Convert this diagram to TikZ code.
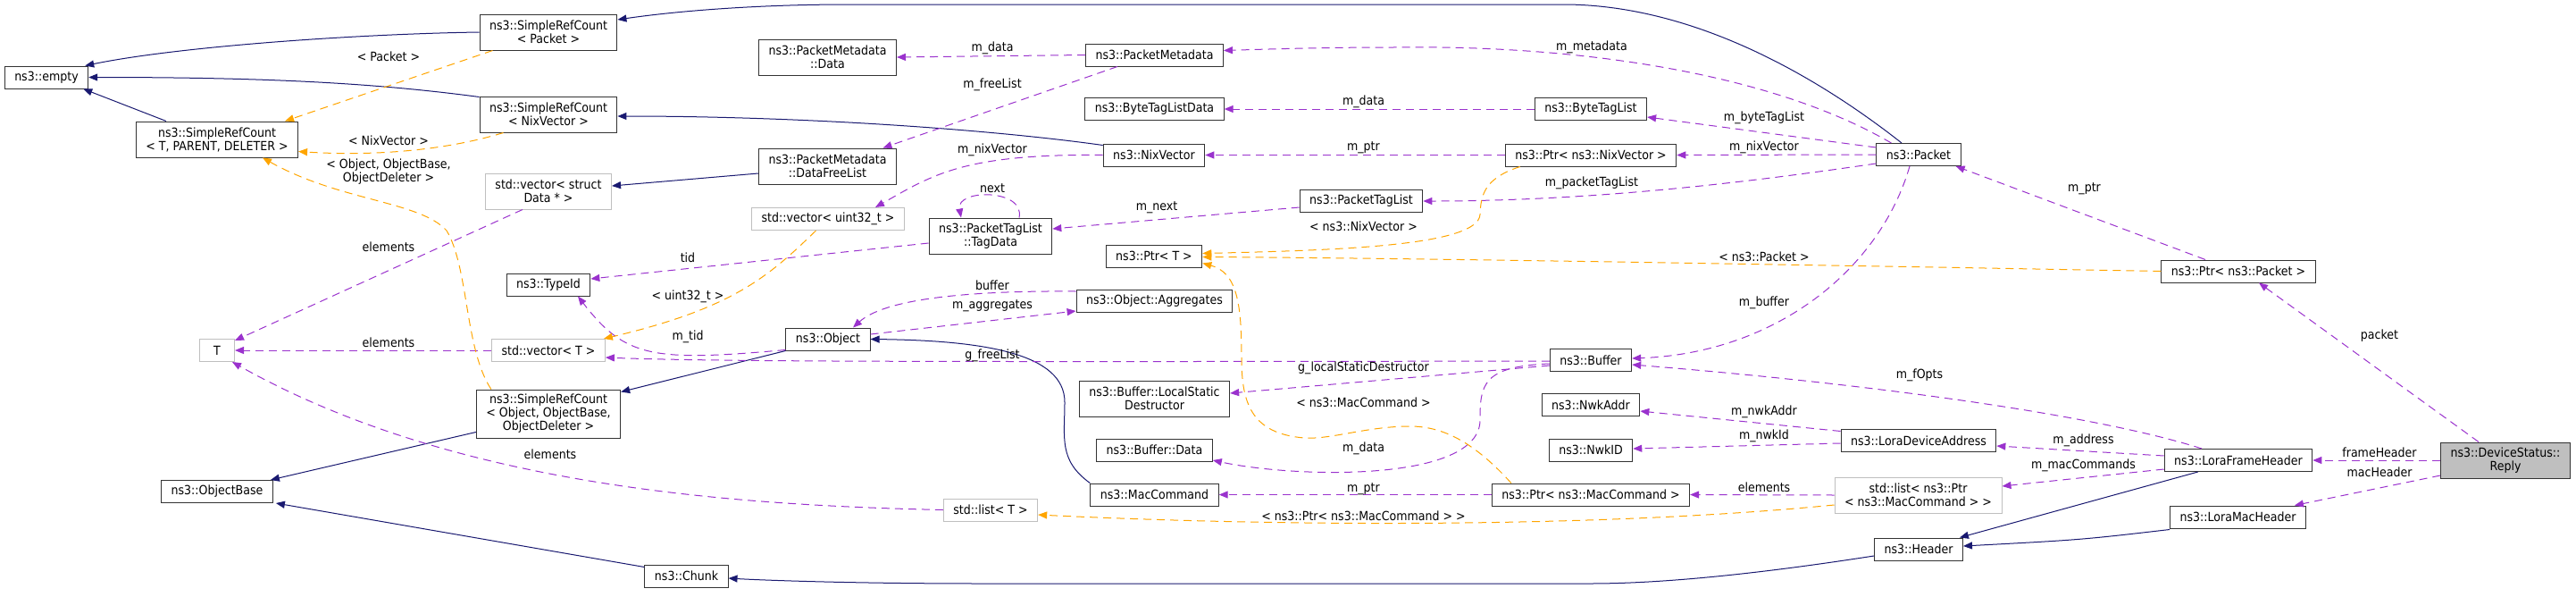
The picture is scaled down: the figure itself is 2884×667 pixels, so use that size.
\documentclass[tikz,border=0pt]{standalone}
\usepackage{fontspec}
\setmainfont{DejaVu Sans}[FakeStretch=0.9]
\usetikzlibrary{arrows.meta}
\definecolor{edgeBlue}{RGB}{25,25,112}
\definecolor{edgePurple}{RGB}{154,50,205}
\definecolor{edgeOrange}{RGB}{255,165,0}
\definecolor{boxGray}{RGB}{191,191,191}

\begin{document}
\begin{tikzpicture}[
	x=1pt, y=-1pt,
	cls/.style={rectangle, draw=black!80, fill=white, line width=1pt, inner xsep=11pt, inner ysep=2pt, minimum height=25pt, align=center, font=\fontsize{14}{15}\selectfont},
	ext/.style={cls, draw=boxGray},
	focus/.style={cls, fill=boxGray},
	lbl/.style={inner sep=0pt, align=center, font=\fontsize{14}{15}\selectfont},
	inherit/.style={color=edgeBlue, line width=1pt, -{Triangle[length=10pt,width=8pt]}},
	usage/.style={color=edgePurple, line width=1pt, dash pattern=on 9pt off 6pt, -{Triangle[length=10pt,width=8pt]}},
	templ/.style={color=edgeOrange, line width=1pt, dash pattern=on 9pt off 6pt, -{Triangle[length=10pt,width=8pt]}}
	]
	\useasboundingbox (0,0) rectangle (2884,667);
	%Nodes
	\node[cls](empty) at (52,86.5) {ns3::empty};
	\node[cls, minimum height=40pt](srcPacket) at (614,36) {ns3::SimpleRefCount\\< Packet >};
	\node[cls, minimum height=40pt](srcNix) at (614,128) {ns3::SimpleRefCount\\< NixVector >};
	\node[cls, minimum height=40pt](srcTPD) at (243,156) {ns3::SimpleRefCount\\< T, PARENT, DELETER >};
	\node[ext, minimum height=40pt](vecData) at (614,214) {std::vector< struct\\Data * >};
	\node[cls](typeId) at (614,318.5) {ns3::TypeId};
	\node[ext, minimum width=39pt](tT) at (243,392) {T};
	\node[ext](vecT) at (614,392) {std::vector< T >};
	\node[cls, minimum height=54pt](srcObj) at (614,463) {ns3::SimpleRefCount\\< Object, ObjectBase,\\ObjectDeleter >};
	\node[cls](objBase) at (243,550) {ns3::ObjectBase};
	\node[cls, minimum height=40pt](pmData) at (926.5,64) {ns3::PacketMetadata\\::Data};
	\node[cls](pMeta) at (1292.5,61.5) {ns3::PacketMetadata};
	\node[cls](btlData) at (1292.5,122) {ns3::ByteTagListData};
	\node[cls](nixVec) at (1292,173.5) {ns3::NixVector};
	\node[cls, minimum height=40pt](pmFree) at (926.5,186) {ns3::PacketMetadata\\::DataFreeList};
	\node[ext](vecU32) at (927,245) {std::vector< uint32\_t >};
	\node[cls, minimum height=40pt](tagData) at (1109,264) {ns3::PacketTagList\\::TagData};
	\node[cls](ptrT) at (1292,286.5) {ns3::Ptr< T >};
	\node[cls](aggr) at (1292.5,337) {ns3::Object::Aggregates};
	\node[cls](object) at (927,379.5) {ns3::Object};
	\node[cls, minimum height=40pt](lsd) at (1292.5,446) {ns3::Buffer::LocalStatic\\Destructor};
	\node[cls](bufData) at (1292.5,503.5) {ns3::Buffer::Data};
	\node[cls](macCmd) at (1292.5,553.5) {ns3::MacCommand};
	\node[ext](listT) at (1109,570.5) {std::list< T >};
	\node[cls](chunk) at (768.5,644.5) {ns3::Chunk};
	\node[cls](btl) at (1781,122) {ns3::ByteTagList};
	\node[cls](ptrNix) at (1781,173.5) {ns3::Ptr< ns3::NixVector >};
	\node[cls](ptl) at (1524,225) {ns3::PacketTagList};
	\node[cls](packet) at (2148,173) {ns3::Packet};
	\node[cls](buffer) at (1781,403) {ns3::Buffer};
	\node[cls](nwkAddr) at (1781,453) {ns3::NwkAddr};
	\node[cls](nwkId) at (1781,503.5) {ns3::NwkID};
	\node[cls](ptrMac) at (1781,553.5) {ns3::Ptr< ns3::MacCommand >};
	\node[cls](lda) at (2148,493) {ns3::LoraDeviceAddress};
	\node[ext, minimum height=40pt](listMac) at (2147.5,554) {std::list< ns3::Ptr\\< ns3::MacCommand > >};
	\node[cls](header) at (2148,614.5) {ns3::Header};
	\node[cls](ptrPkt) at (2506,303.5) {ns3::Ptr< ns3::Packet >};
	\node[cls](lfh) at (2506,515) {ns3::LoraFrameHeader};
	\node[cls](lmh) at (2505.5,578.5) {ns3::LoraMacHeader};
	\node[focus, minimum height=40pt](reply) at (2805,515) {ns3::DeviceStatus::\\Reply};
	%Lines
	% base classes
	\draw[inherit] (srcPacket.west) .. controls (400,38) and (200,52) .. ([xshift=-4pt]empty.north east);
	\draw[inherit] ([yshift=-1pt]srcNix.north west) .. controls (420,93) and (300,86.5) .. (empty.east);
	\draw[inherit] ([xshift=-57pt]srcTPD.north) -- ([xshift=-6pt]empty.south east);
	\draw[inherit] ([yshift=7pt]srcObj.south west) -- ([xshift=-3pt]objBase.north east);
	\draw[inherit] ([yshift=-3pt]chunk.north west) -- ([xshift=3pt]objBase.south east);
	\draw[inherit] (object.south west) -- ([yshift=-3pt]srcObj.north east);
	\draw[inherit] ([yshift=-8pt]pmFree.west) -- ([yshift=6pt]vecData.east);
	\draw[inherit] ([yshift=-2pt]nixVec.north west) .. controls (1110,145) and (900,130) .. ([yshift=-2pt]srcNix.east);
	\draw[inherit] ([xshift=-19pt]packet.north) .. controls (2040,90) and (1900,5) .. (1750,5) -- (950,5) .. controls (850,5) and (760,12) .. ([yshift=14pt]srcPacket.east);
	\draw[inherit] (macCmd.north west) .. controls (1185,515) and (1192,490) .. (1192,450) .. controls (1192,395) and (1100,381) .. (object.east);
	\draw[inherit] ([yshift=-7.5pt]header.west) .. controls (1950,645) and (1850,653) .. (1780,653) -- (1100,653) .. controls (950,653) and (850,649) .. ([yshift=-2.5pt]chunk.east);
	\draw[inherit] ([xshift=38pt]lfh.south west) -- ([xshift=-4pt]header.north east);
	\draw[inherit] ([yshift=-1pt]lmh.south west) .. controls (2330,604) .. ([yshift=3.5pt]header.east);
	% members
	\draw[usage] (pMeta.west) -- (pmData.east);
	\draw[usage] ([xshift=36pt]pMeta.south west) -- ([xshift=62pt]pmFree.north);
	\draw[usage] ([xshift=17pt]packet.north west) .. controls (1980,80) and (1760,50) .. (1560,53) .. controls (1480,53) and (1420,55) .. ([yshift=5pt]pMeta.east);
	\draw[usage] (btl.west) -- (btlData.east);
	\draw[usage] ([yshift=8pt]packet.west) -- ([yshift=-9pt]btl.east);
	\draw[usage] (ptrNix.west) -- (nixVec.east);
	\draw[usage] (packet.west) -- (ptrNix.east);
	\draw[usage] ([yshift=-10pt]packet.west) .. controls (1950,205) and (1780,225) .. (ptl.east);
	\draw[usage] ([yshift=-7pt]ptl.west) -- ([yshift=8pt]tagData.east);
	\draw[usage] ([xshift=32pt]tagData.north) .. controls (1148,211) and (1070,211) .. ([xshift=-33pt]tagData.north);
	\draw[usage] ([yshift=-8pt]tagData.west) -- ([yshift=6.5pt]typeId.east);
	\draw[usage] (nixVec.west) .. controls (1080,172) and (1045,195) .. ([xshift=53pt]vecU32.north);
	\draw[usage] ([yshift=5.5pt]object.east) -- ([yshift=-11pt]aggr.west);
	\draw[usage] ([yshift=11pt]aggr.west) .. controls (1080,325) and (990,335) .. ([xshift=28pt]object.north);
	\draw[usage] ([yshift=1pt]object.south west) .. controls (730,405) and (700,400) .. ([xshift=33pt]typeId.south);
	\draw[usage] ([yshift=-1pt]buffer.west) .. controls (1100,405) and (800,405) .. ([yshift=-8pt]vecT.east);
	\draw[usage] ([yshift=-6pt]buffer.west) -- ([yshift=6pt]lsd.east);
	\draw[usage] ([yshift=-4pt]buffer.west) .. controls (1660,410) and (1657,430) .. (1657,470) .. controls (1657,540) and (1450,535) .. ([yshift=-11.5pt]bufData.east);
	\draw[usage] ([xshift=-10pt]packet.south) .. controls (2105,300) and (1990,395) .. ([yshift=2pt]buffer.east);
	\draw[usage] ([xshift=-41pt]lfh.north) .. controls (2350,465) and (2100,430) .. ([yshift=-5pt]buffer.east);
	\draw[usage] (ptrMac.west) -- (macCmd.east);
	\draw[usage] (listMac.west) -- (ptrMac.east);
	\draw[usage] ([yshift=10.5pt]lda.west) -- ([yshift=-7pt]nwkAddr.east);
	\draw[usage] ([yshift=-3pt]lda.west) -- ([yshift=1.5pt]nwkId.east);
	\draw[usage] ([yshift=5pt]lfh.west) -- ([yshift=-6pt]lda.east);
	\draw[usage] ([yshift=-10pt]lfh.west) -- ([yshift=10pt]listMac.east);
	\draw[usage] ([xshift=-30pt]reply.north) -- ([xshift=23pt]ptrPkt.south);
	\draw[usage] (reply.west) -- (lfh.east);
	\draw[usage] ([yshift=-17pt]reply.west) -- ([xshift=-13pt]lmh.north east);
	\draw[usage] ([xshift=-37pt]ptrPkt.north) -- ([xshift=-6pt]packet.south east);
	\draw[usage] ([xshift=-29pt]vecData.south) -- ([yshift=-2pt]tT.north east);
	\draw[usage] (vecT.west) -- (tT.east);
	\draw[usage] (listT.west) .. controls (800,565) and (500,540) .. ([xshift=-3pt]tT.south east);
	% template instances
	\draw[templ] ([xshift=-13.5pt]vecU32.south) .. controls (860,310) and (820,345) .. ([xshift=-2pt]vecT.north east);
	\draw[templ] ([xshift=15pt]srcPacket.south west) -- ([xshift=-15pt]srcTPD.north east);
	\draw[templ] ([xshift=27pt]srcNix.south west) .. controls (500,168) and (420,175) .. ([yshift=-13.5pt]srcTPD.east);
	\draw[templ] ([xshift=17pt]srcObj.north west) .. controls (520,390) and (525,300) .. (500,258) .. controls (470,225) and (380,225) .. ([xshift=51pt]srcTPD.south);
	\draw[templ] ([xshift=17pt]ptrNix.south west) .. controls (1660,200) and (1658,220) .. (1657,240) .. controls (1655,275) and (1500,280) .. ([yshift=3pt]ptrT.east);
	\draw[templ] (ptrPkt.west) .. controls (2000,296) and (1600,289) .. ([yshift=-1pt]ptrT.east);
	\draw[templ] ([xshift=22pt]ptrMac.north west) .. controls (1655,500) and (1620,477) .. (1579,477) .. controls (1530,477) and (1490,492) .. (1460,490) .. controls (1400,485) and (1390,450) .. (1390,400) .. controls (1390,340) and (1385,305) .. ([yshift=5pt]ptrT.south east);
	\draw[templ] ([yshift=-11pt]listMac.west) .. controls (1800,590) and (1450,590) .. ([yshift=-5.5pt]listT.east);
	% Edge labels
	\node[lbl](lbPacket) at (435,63) {< Packet >};
	\node[lbl](lbNix) at (435,157) {< NixVector >};
	\node[lbl](lbObj) at (435,192) {< Object, ObjectBase,\\ObjectDeleter >};
	\node[lbl](lbElemData) at (435,276) {elements};
	\node[lbl](lbElemVec) at (435,383) {elements};
	\node[lbl](lbElemList) at (616,508.5) {elements};
	\node[lbl](lbPmData) at (1111,54) {m\_data};
	\node[lbl](lbFreeList) at (1111,95) {m\_freeList};
	\node[lbl](lbNixVecA) at (1111,168) {m\_nixVector};
	\node[lbl](lbNext) at (1111,211) {next};
	\node[lbl](lbMNext) at (1295,232) {m\_next};
	\node[lbl](lbTid) at (770,288) {tid};
	\node[lbl](lbU32) at (770,331.7) {< uint32\_t >};
	\node[lbl](lbBuffer) at (1111,319) {buffer};
	\node[lbl](lbAggr) at (1111,342.7) {m\_aggregates};
	\node[lbl](lbMTid) at (770,376.7) {m\_tid};
	\node[lbl](lbFree) at (1111,398) {g\_freeList};
	\node[lbl](lbMeta) at (1782,53) {m\_metadata};
	\node[lbl](lbBtlData) at (1526.5,114) {m\_data};
	\node[lbl](lbBtl) at (1975,132) {m\_byteTagList};
	\node[lbl](lbPtrNix) at (1526.5,165) {m\_ptr};
	\node[lbl](lbNixVecB) at (1975,165) {m\_nixVector};
	\node[lbl](lbPtl) at (1782,205) {m\_packetTagList};
	\node[lbl](lbTNix) at (1526.5,253) {< ns3::NixVector >};
	\node[lbl](lbTPkt) at (1975,287) {< ns3::Packet >};
	\node[lbl](lbMBuf) at (1975,339) {m\_buffer};
	\node[lbl](lbLsd) at (1526.5,412) {g\_localStaticDestructor};
	\node[lbl](lbTMac) at (1526.5,450) {< ns3::MacCommand >};
	\node[lbl](lbBufData) at (1526.5,502) {m\_data};
	\node[lbl](lbPtrMac) at (1526.5,547) {m\_ptr};
	\node[lbl](lbTList) at (1526.5,577) {< ns3::Ptr< ns3::MacCommand > >};
	\node[lbl](lbNwkAddr) at (1975,461) {m\_nwkAddr};
	\node[lbl](lbNwkId) at (1975,488) {m\_nwkId};
	\node[lbl](lbElemMac) at (1975,545.5) {elements};
	\node[lbl](lbFOpts) at (2149,420) {m\_fOpts};
	\node[lbl](lbAddr) at (2332.5,492.7) {m\_address};
	\node[lbl](lbMacCmds) at (2332.5,520.8) {m\_macCommands};
	\node[lbl](lbPtrPkt) at (2333.5,211.7) {m\_ptr};
	\node[lbl](lbPktField) at (2664,376) {packet};
	\node[lbl](lbFrame) at (2664,506.6) {frameHeader};
	\node[lbl](lbMac) at (2664,528) {macHeader};
\end{tikzpicture}
\end{document}
